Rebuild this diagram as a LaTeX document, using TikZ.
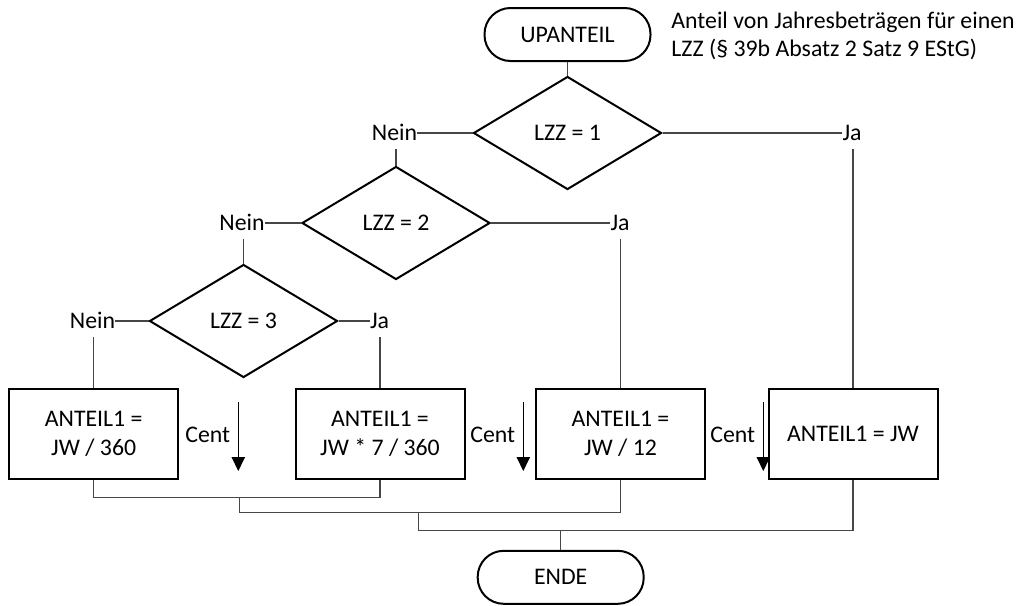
\documentclass[tikz,border=0pt]{standalone}
\usepackage{fontspec}
\setmainfont{Carlito}
\usetikzlibrary{shapes.geometric,arrows.meta}
\begin{document}
\begin{tikzpicture}[x=0.5pt,y=-0.5pt,
  every node/.style={font=\fontsize{11.9}{14.2}\selectfont, text=black},
  term/.style={draw=black, line width=1pt, rectangle, rounded corners=13pt, minimum width=83pt, minimum height=26.5pt, inner sep=0pt},
  dec/.style={draw=black, line width=1pt, diamond, minimum width=94pt, minimum height=56.5pt, inner sep=0pt},
  proc/.style={draw=black, line width=1pt, rectangle, minimum width=84.5pt, minimum height=45pt, inner sep=0pt, align=center},
  lbl/.style={inner xsep=0pt, inner ysep=4pt, text height=7.7pt, text depth=0pt},
  conn/.style={draw={rgb,255:red,70;green,70;blue,70}, line width=0.6pt},
  centarrow/.style={draw=black, line width=0.6pt, -{Triangle[width=6.7pt,length=7pt]}},
  note/.style={anchor=base west, inner sep=0pt}
]
\fill[white] (0,0) rectangle (1020,605);
\useasboundingbox (0,0) rectangle (1020,605);

% shapes
\node[term] (t1) at (567.5,34.5) {UPANTEIL};
\node[dec] (d1) at (567.5,133) {LZZ = 1};
\node[dec] (d2) at (396,223) {LZZ = 2};
\node[dec] (d3) at (243.5,321) {LZZ = 3};
\node[proc] (b1) at (93.7,434) {ANTEIL1 =\\JW / 360};
\node[proc] (b2) at (380,434) {ANTEIL1 =\\JW * 7 / 360};
\node[proc] (b3) at (620.5,434) {ANTEIL1 =\\JW / 12};
\node[proc] (b4) at (853,434) {ANTEIL1 = JW};
\node[term] (t2) at (560.7,577.3) {ENDE};

% annotation
\node[note] (n1) at (671,28) {Anteil von Jahresbeträgen für einen};
\node[note] (n2) at (671,56) {LZZ (§ 39b Absatz 2 Satz 9 EStG)};

% labels
\node[lbl] (nein1) at (394.5,133) {Nein};
\node[lbl] (nein2) at (242,223) {Nein};
\node[lbl] (nein3) at (92.5,321) {Nein};
\node[lbl] (ja1) at (852,133) {Ja};
\node[lbl] (ja2) at (620,223) {Ja};
\node[lbl] (ja3) at (379.5,321) {Ja};

% connectors
\draw[conn] (t1.south) -- (d1.north);
\draw[conn] (d1.west) -- (nein1.east);
\draw[conn] (nein1.south -| d2.north) -- (d2.north);
\draw[conn] (d1.east) -- (ja1.west);
\draw[conn] (ja1.south -| b4.north) -- (b4.north);
\draw[conn] (d2.west) -- (nein2.east);
\draw[conn] (nein2.south -| d3.north) -- (d3.north);
\draw[conn] (d2.east) -- (ja2.west);
\draw[conn] (ja2.south -| b3.north) -- (b3.north);
\draw[conn] (d3.west) -- (nein3.east);
\draw[conn] (nein3.south -| b1.north) -- (b1.north);
\draw[conn] (d3.east) -- (ja3.west);
\draw[conn] (ja3.south -| b2.north) -- (b2.north);

\coordinate (j1) at (239.3,497.3);
\coordinate (j2) at (418.5,512.7);
\coordinate (j3) at (560.7,530.7);
\draw[conn] (b1.south) |- (j1) -| (b2.south);
\draw[conn] (j1) |- (j2) -| (b3.south);
\draw[conn] (j2) |- (j3) -| (b4.south);
\draw[conn] (j3) -- (t2.north);

% Cent arrows
\coordinate (c1s) at (238.3,402); \coordinate (c1e) at (238.3,471);
\coordinate (c2s) at (523.3,402); \coordinate (c2e) at (523.3,471);
\coordinate (c3s) at (763.3,402); \coordinate (c3e) at (763.3,471);
\draw[centarrow] (c1s) -- (c1e);
\draw[centarrow] (c2s) -- (c2e);
\draw[centarrow] (c3s) -- (c3e);
\node[anchor=east, inner sep=0pt] (cent1) at (230.5,434.5) {Cent};
\node[anchor=east, inner sep=0pt] (cent2) at (515.5,434.5) {Cent};
\node[anchor=east, inner sep=0pt] (cent3) at (755.5,434.5) {Cent};
\end{tikzpicture}
\end{document}
